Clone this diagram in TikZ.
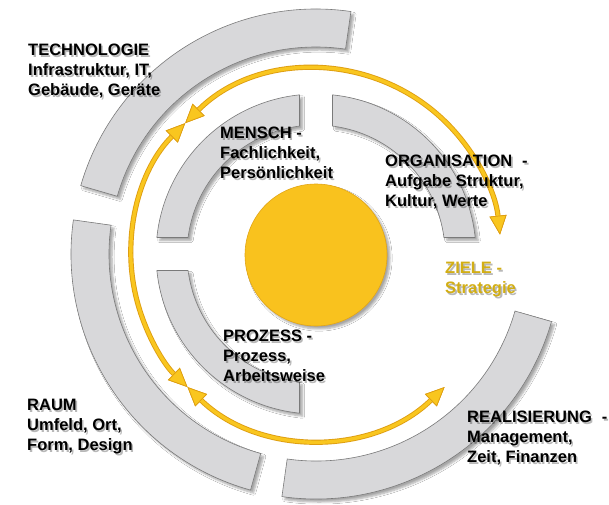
\documentclass[tikz,border=0pt]{standalone}
\usepackage{fontspec}
\setmainfont{Liberation Sans}
\usetikzlibrary{arrows.meta,calc,shadows.blur}
\definecolor{segfill}{HTML}{D8D8DA}
\definecolor{segline}{HTML}{7A7A7A}
\definecolor{sunfill}{HTML}{F9C21E}
\definecolor{sunline}{HTML}{E2A516}
\definecolor{arry}{HTML}{F9C61F}
\definecolor{arro}{HTML}{DE9E12}
\definecolor{zieltext}{HTML}{D2AE14}
\tikzset{
  ytip/.tip={Triangle[length=19pt,width=17pt,fill=arry,color=arro,line width=0.7pt]},
  seg/.style={fill=segfill, draw=segline, line width=0.6pt,
    blur shadow={shadow xshift=3pt, shadow yshift=-3pt, shadow opacity=35, shadow blur steps=6}},
  lbl/.style={anchor=north west, inner sep=0pt, align=left,
    font=\fontsize{16.5}{20}\selectfont\bfseries},
  arrouter/.style={draw=arro, line width=5.2pt, ytip-ytip},
  arrinner/.style={draw=arry, line width=3.4pt, ytip-ytip}
}
\newcommand\RingSeg[6]{%
  \path[seg] ($(c)+(#1:#5)$) arc[start angle=#1,end angle=#2,radius=#5]
    -- ($(c)+(#3:#6)$) arc[start angle=#3,end angle=#4,radius=#6] -- cycle;}
\newcommand\Label[5]{%
  \node[lbl, text=black, opacity=0.28] (#1s) at (#2+1.6,#3-1.6) {#5};
  \node[lbl, text=#4] (#1) at (#2,#3) {#5};}
\begin{document}
\begin{tikzpicture}[x=1pt,y=1pt]
\fill[white] (0,0) rectangle (609,504);
\useasboundingbox (0,0) rectangle (609,504);
\coordinate (c) at (316,250);
% inner ring
\RingSeg{95.92}{174.08}{172.65}{97.35}{160}{129}
\RingSeg{84.08}{5.92}{7.35}{82.65}{160}{129}
\RingSeg{185.92}{264.08}{262.65}{187.35}{160}{129}
% outer ring
\RingSeg{81.8}{163.8}{163.8}{81.8}{245}{207}
\RingSeg{172}{254.5}{254.5}{172}{245}{207}
\RingSeg{262}{344}{344}{262}{245}{207}
% sun
\node[circle, minimum size=142pt, fill=sunfill, draw=sunline, line width=0.6pt,
  blur shadow={shadow xshift=3pt, shadow yshift=-3pt, shadow opacity=35, shadow blur steps=6}]
  (sun) at (316,249) {};
% arrows
\coordinate (p1) at ($(c)+(135:185)$);
\coordinate (p2) at ($(c)+(226:185)$);
\draw[arrouter] (p1) arc[start angle=135, end angle=6, radius=185];
\draw[arrinner] (p1) arc[start angle=135, end angle=6, radius=185];
\draw[arrouter] (p1) arc[start angle=135, end angle=226, radius=185];
\draw[arrinner] (p1) arc[start angle=135, end angle=226, radius=185];
\draw[arrouter] (p2) arc[start angle=226, end angle=314, radius=185];
\draw[arrinner] (p2) arc[start angle=226, end angle=314, radius=185];
% labels
\Label{tech}{28}{459.8}{black}{TECHNOLOGIE\\Infrastruktur, IT,\\Gebäude, Geräte}
\Label{mensch}{220}{376.8}{black}{MENSCH -\\Fachlichkeit,\\Persönlichkeit}
\Label{orga}{385}{348.8}{black}{ORGANISATION\hspace{0.6em}-\\Aufgabe Struktur,\\Kultur, Werte}
\Label{ziele}{445}{241.8}{zieltext}{ZIELE -\\Strategie}
\Label{proz}{223}{173.8}{black}{PROZESS -\\Prozess,\\Arbeitsweise}
\Label{raum}{27}{104.8}{black}{RAUM\\Umfeld, Ort,\\Form, Design}
\Label{real}{467}{92.8}{black}{REALISIERUNG\hspace{0.6em}-\\Management,\\Zeit, Finanzen}
\end{tikzpicture}
\end{document}
